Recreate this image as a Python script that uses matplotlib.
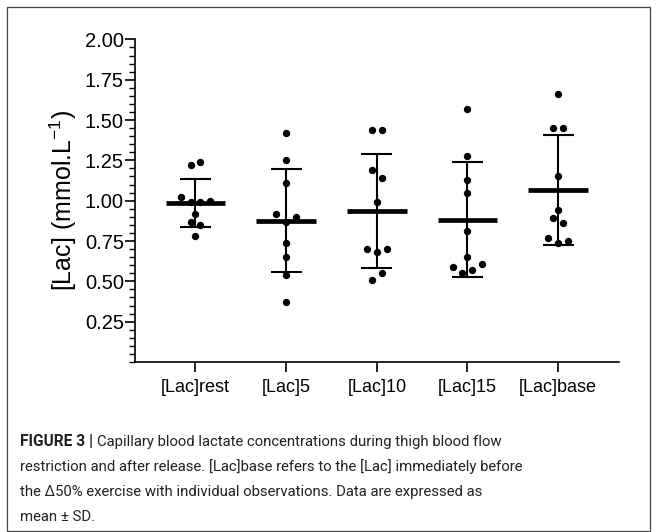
import numpy as np
import matplotlib.pyplot as plt
from matplotlib.patches import Rectangle
from matplotlib.ticker import MultipleLocator, FormatStrFormatter

plt.rcParams['font.family'] = ['Liberation Sans', 'DejaVu Sans']
plt.rcParams['mathtext.fontset'] = 'custom'
plt.rcParams['mathtext.rm'] = 'Liberation Sans'
plt.rcParams['mathtext.it'] = 'Liberation Sans'

# data (mmol/L)
groups = ['[Lac]rest', '[Lac]5', '[Lac]10', '[Lac]15', '[Lac]base']
lac_rest = [1.22, 1.24, 1.02, 0.99, 0.99, 1.00, 0.92, 0.87, 0.85, 0.78]
lac_5 = [1.42, 1.25, 1.11, 0.92, 0.90, 0.87, 0.74, 0.65, 0.54, 0.37]
lac_10 = [1.44, 1.44, 1.19, 1.14, 0.99, 0.70, 0.68, 0.70, 0.55, 0.51]
lac_15 = [1.57, 1.28, 1.13, 1.05, 0.81, 0.65, 0.59, 0.61, 0.57, 0.55]
lac_base = [1.66, 1.45, 1.45, 1.15, 0.94, 0.89, 0.86, 0.77, 0.74, 0.75]
all_data = [lac_rest, lac_5, lac_10, lac_15, lac_base]

# horizontal spread of the dots (in half-dot steps)
spread = [
    [-1, 1, -3, -1, 1, 3, 0, -1, 1, 0],
    [0, 0, 0, -2, 2, 0, 0, 0, 0, 0],
    [-1, 1, -1, 1, 0, -2, 0, 2, 1, -1],
    [0, 0, 0, 0, 0, 0, -3, 3, 1, -1],
    [0, -1, 1, 0, 0, -1, 1, -2, 0, 2],
]
step = 0.055

fig = plt.figure(figsize=(6.57, 5.32), dpi=100)
ax = fig.add_axes([0.2055, 0.3195, 0.7365, 0.6065])

for i, vals in enumerate(all_data):
    vals = np.array(vals)
    m = vals.mean()
    sd = vals.std(ddof=1)
    ax.vlines(i, m - sd, m + sd, color='black', lw=1.5, zorder=2)
    ax.hlines([m - sd, m + sd], i - 0.17, i + 0.17, color='black', lw=1.5, zorder=2)
    ax.hlines(m, i - 0.33, i + 0.33, color='black', lw=3.4, zorder=2)
    xs = i + np.array(spread[i]) * step
    ax.scatter(xs, vals, s=28, color='black', zorder=3, linewidths=0)

ax.set_xlim(-0.667, 4.67)
ax.set_ylim(0, 2.0)
ax.set_xticks(range(len(groups)))
ax.set_xticklabels(groups, fontsize=13)
ax.set_yticks(np.arange(0.25, 2.01, 0.25))
ax.yaxis.set_major_formatter(FormatStrFormatter('%.2f'))
ax.yaxis.set_minor_locator(MultipleLocator(0.05))
ax.tick_params(axis='y', which='major', length=7, width=1.2, labelsize=14.5, pad=1)
ax.tick_params(axis='y', which='minor', length=4, width=1.0)
ax.tick_params(axis='x', which='major', length=7, width=1.2, pad=5)
for s in ['top', 'right']:
    ax.spines[s].set_visible(False)
for s in ['left', 'bottom']:
    ax.spines[s].set_linewidth(1.2)
ax.set_ylabel('[Lac] (mmol.L$^{-1}$)', fontsize=18, labelpad=4)

# outer frame
fig.patches.append(Rectangle((7 / 657, 1 / 532), 643 / 657, 524 / 532,
                             transform=fig.transFigure, fill=False,
                             edgecolor='#444444', lw=0.9))

# caption
cap_font = ['Roboto', 'DejaVu Sans']
cap_color = '#222222'
cap_size = 10.7
x0 = 20 / 657
lines_y = [442, 467, 492, 517]
bold = fig.text(x0, 1 - lines_y[0] / 532, 'FIGURE 3 |', fontsize=11.2, fontweight='bold',
                family=cap_font, color=cap_color, va='center')
fig.canvas.draw()
bb = bold.get_window_extent()
fig.text(bb.x1 / fig.bbox.width + 4 / 657, 1 - lines_y[0] / 532,
         'Capillary blood lactate concentrations during thigh blood flow',
         fontsize=cap_size, family=cap_font, color=cap_color, va='center')
rest_lines = [
    'restriction and after release. [Lac]base refers to the [Lac] immediately before',
    'the \u039450% exercise with individual observations. Data are expressed as',
    'mean \u00b1 SD.',
]
for y, t in zip(lines_y[1:], rest_lines):
    fig.text(x0, 1 - y / 532, t, fontsize=cap_size, family=cap_font,
             color=cap_color, va='center')

fig.savefig('out.png', dpi=100)
